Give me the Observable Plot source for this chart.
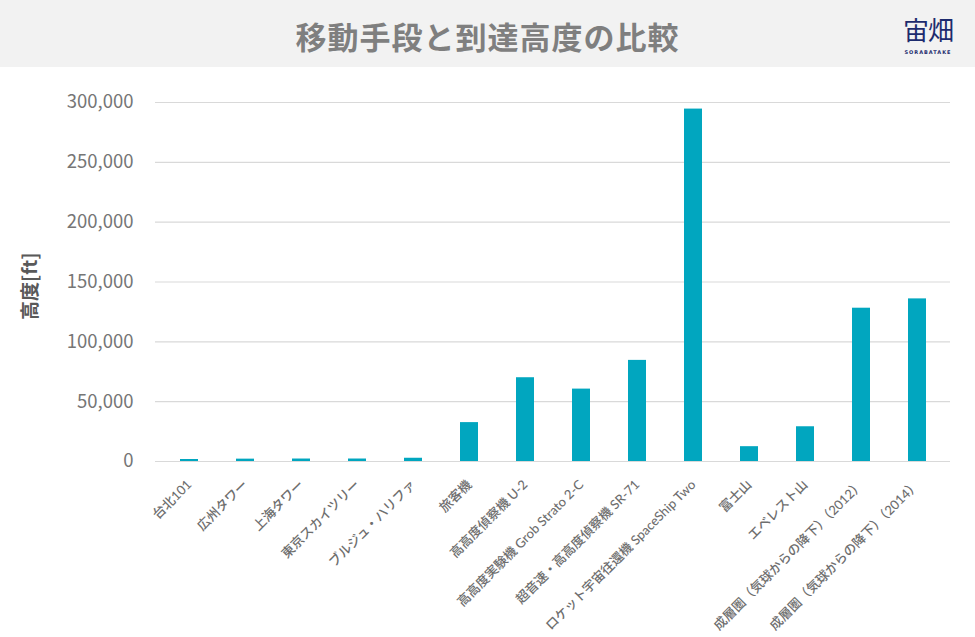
<!DOCTYPE html>
<html>
<head>
<meta charset="utf-8">
<script src="https://cdn.jsdelivr.net/npm/d3@7"></script>
<script src="https://cdn.jsdelivr.net/npm/@observablehq/plot@0.6"></script>
<style>
  html, body { margin: 0; padding: 0; background: #fff; }
  body { width: 975px; height: 637px; overflow: hidden; font-family: "Noto Sans CJK JP", "Noto Sans", sans-serif; }
  #header { position: relative; height: 67px; background: #f2f2f2; }
  #title { position: absolute; left: 0; right: 0; top: 13px; text-align: center; font-size: 31px; font-weight: bold; color: #7f7f7f; letter-spacing: 1px; }
  #logo { position: absolute; left: 896px; top: 15px; width: 64px; text-align: center; color: #1d2b6e; }
  #logo .mark { font-size: 26px; line-height: 28px; font-weight: normal; letter-spacing: -1px; }
  #logo .sub { margin-top: 6px; font-size: 5px; line-height: 6px; letter-spacing: 1px; font-family: "DejaVu Sans", sans-serif; font-weight: bold; }
  #chart svg { display: block; }
</style>
</head>
<body>
<div id="header">
  <div id="title">移動手段と到達高度の比較</div>
  <div id="logo"><div class="mark">宙畑</div><div class="sub">SORABATAKE</div></div>
</div>
<div id="chart"></div>
<script>
const categories = [
  "台北101",
  "広州タワー",
  "上海タワー",
  "東京スカイツリー",
  "ブルジュ・ハリファ",
  "旅客機",
  "高高度偵察機 U-2",
  "高高度実験機 Grob Strato 2-C",
  "超音速・高高度偵察機 SR-71",
  "ロケット宇宙往還機 SpaceShip Two",
  "富士山",
  "エベレスト山",
  "成層圏（気球からの降下）（2012）",
  "成層圏（気球からの降下）（2014）"
];
const heights = [1667, 1969, 2073, 2080, 2717, 32500, 70000, 60500, 84500, 294500, 12388, 29029, 128100, 135890];
const yTicks = [0, 50000, 100000, 150000, 200000, 250000, 300000];
const yLabel = "高度[ft]";

const data = categories.map((c, i) => ({category: c, height: heights[i]}));

const chart = Plot.plot({
  width: 975,
  height: 570,
  marginTop: 35,
  marginBottom: 176,
  marginLeft: 155,
  marginRight: 25,
  style: {fontFamily: "'Noto Sans CJK JP', 'Noto Sans', sans-serif", color: "#7f7f7f", background: "#fff"},
  x: {domain: categories, paddingInner: 0.68, paddingOuter: 0.34, label: null},
  y: {domain: [0, 300000], label: null},
  marks: [
    Plot.ruleY(yTicks, {stroke: "#d9d9d9", strokeWidth: 1.2}),
    Plot.barY(data, {x: "category", y: "height", fill: "#01a6bf"}),
    Plot.axisY({ticks: yTicks, tickFormat: d3.format(","), tickSize: 0, tickPadding: 22, fontSize: 18.5, fill: "#767676", label: null}),
    Plot.axisX({tickSize: 0, tickRotate: -45, tickPadding: 21, fontSize: 13, fontWeight: 500, fontFamily: "Lato, 'Noto Sans CJK JP', sans-serif", fill: "#6e6e6e", label: null, dx: 0}),
    Plot.text([yLabel], {frameAnchor: "left", dx: -125, dy: 38, rotate: -90, fontSize: 19, fontWeight: 600, fill: "#595959"})
  ]
});
document.getElementById("chart").appendChild(chart);
</script>
</body>
</html>
